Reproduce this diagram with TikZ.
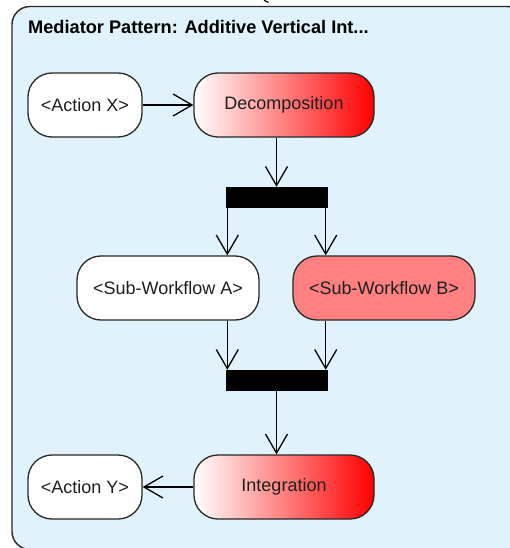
\documentclass[tikz,border=0pt]{standalone}
\usepackage{fontspec}
\setmainfont{Liberation Sans}
\usetikzlibrary{arrows.meta,calc}
\definecolor{panelbg}{RGB}{224,242,252}
\definecolor{edgegray}{RGB}{40,40,40}
\definecolor{subred}{RGB}{255,128,128}
\definecolor{txt}{RGB}{30,30,30}
\begin{document}
\begin{tikzpicture}[x=1pt,y=-1pt,
  action/.style={draw=edgegray, line width=1.3pt, rounded corners=24pt,
    minimum height=64pt, inner sep=0pt, text=txt,
    font=\fontsize{18}{21}\selectfont, fill=white},
  shaded action/.style={action, left color=white, right color=red},
  syncbar/.style={fill=black, draw=black, minimum width=101pt, minimum height=20pt, inner sep=0pt},
  flow/.style={draw=black, line width=1.3pt, -{Straight Barb[length=19pt,width=22pt,line width=1.3pt]}}]
\useasboundingbox (0,0) rectangle (510,548);
\clip (0,0) rectangle (510,548);

% activity frame
\draw[fill=panelbg, draw=edgegray, line width=1.4pt, rounded corners=18pt] (12,6.5) rectangle (525,549.5);
\node[anchor=base west, inner sep=0pt, font=\fontsize{18.2}{21}\selectfont\bfseries, text=black] (title) at (28,34) {Mediator Pattern: Additive Vertical Int...};
\draw[line width=1.2pt] (264,0.3) -- (268.5,2.5);

% actions
\node[action, minimum width=114pt] (ax) at (85,105) {<Action X>};
\node[shaded action, minimum width=180pt] (dec) at (284,105) {Decomposition};
\node[syncbar] (fork) at (276.5,197) {};
\node[action, minimum width=182pt] (sa) at (168,288) {<Sub-Workflow A>};
\node[action, fill=subred, minimum width=182pt] (sb) at (384,288) {<Sub-Workflow B>};
\node[syncbar] (join) at (276.5,380) {};
\node[shaded action, minimum width=180pt] (integ) at (284,487) {Integration};
\node[action, minimum width=114pt] (ay) at (85,487) {<Action Y>};

% control flow
\coordinate (fl) at ($(fork.south west)+(1.5,0)$);
\coordinate (fr) at ($(fork.south east)+(-1.5,0)$);
\coordinate (jl) at ($(join.north west)+(1.5,0)$);
\coordinate (jr) at ($(join.north east)+(-1.5,0)$);
\draw[flow] (ax) -- (dec);
\draw[flow] (fork.north |- dec.south) -- (fork.north);
\draw[flow] (fl) -- (fl |- sa.north);
\draw[flow] (fr) -- (fr |- sb.north);
\draw[flow] (jl |- sa.south) -- (jl);
\draw[flow] (jr |- sb.south) -- (jr);
\draw[flow] (join.south) -- (join.south |- integ.north);
\draw[flow] (integ) -- (ay);
\end{tikzpicture}
\end{document}
